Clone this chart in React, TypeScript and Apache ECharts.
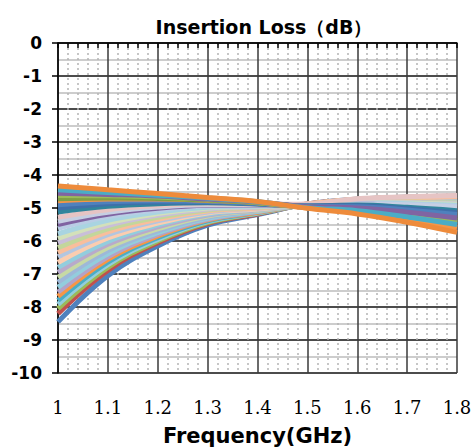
import React, { useEffect, useRef } from "react";
import * as echarts from "echarts";

const freqs = [1.0, 1.1, 1.2, 1.3, 1.4, 1.5, 1.6, 1.7, 1.8];

const s00 = [-4.33, -4.45, -4.56, -4.68, -4.80, -5.01, -5.18, -5.43, -5.74];
const s01 = [-4.45, -4.53, -4.61, -4.70, -4.81, -4.99, -5.08, -5.27, -5.50];
const s02 = [-4.55, -4.59, -4.64, -4.73, -4.82, -4.96, -5.00, -5.13, -5.30];
const s03 = [-4.62, -4.63, -4.67, -4.74, -4.83, -4.98, -5.06, -5.23, -5.44];
const s04 = [-4.72, -4.70, -4.71, -4.76, -4.84, -4.97, -5.03, -5.18, -5.38];
const s05 = [-4.78, -4.73, -4.73, -4.77, -4.84, -5.00, -5.12, -5.34, -5.60];
const s06 = [-4.90, -4.81, -4.78, -4.80, -4.86, -4.95, -4.96, -5.06, -5.20];
const s07 = [-5.00, -4.87, -4.82, -4.82, -4.87, -4.94, -4.93, -5.02, -5.14];
const s08 = [-5.12, -4.95, -4.87, -4.84, -4.88, -4.94, -4.91, -4.98, -5.08];
const s09 = [-5.28, -5.05, -4.93, -4.87, -4.89, -4.88, -4.72, -4.66, -4.62];
const s10 = [-5.40, -5.13, -4.97, -4.90, -4.90, -4.92, -4.87, -4.91, -4.98];
const s11 = [-5.50, -5.19, -5.01, -4.92, -4.91, -4.93, -4.88, -4.94, -5.02];
const s12 = [-5.62, -5.26, -5.06, -4.94, -4.93, -4.92, -4.86, -4.89, -4.95];
const s13 = [-5.78, -5.37, -5.12, -4.98, -4.94, -4.92, -4.84, -4.87, -4.92];
const s14 = [-5.92, -5.45, -5.17, -5.00, -4.95, -4.91, -4.83, -4.85, -4.89];
const s15 = [-6.05, -5.53, -5.22, -5.03, -4.97, -4.91, -4.82, -4.83, -4.87];
const s16 = [-6.20, -5.63, -5.28, -5.06, -4.98, -4.91, -4.81, -4.82, -4.85];
const s17 = [-6.35, -5.72, -5.34, -5.09, -5.00, -4.88, -4.74, -4.69, -4.66];
const s18 = [-6.48, -5.81, -5.39, -5.12, -5.01, -4.91, -4.81, -4.80, -4.83];
const s19 = [-6.65, -5.91, -5.46, -5.15, -5.03, -4.88, -4.73, -4.67, -4.64];
const s20 = [-6.80, -6.01, -5.51, -5.18, -5.04, -4.90, -4.80, -4.79, -4.81];
const s21 = [-6.95, -6.10, -5.57, -5.21, -5.05, -4.90, -4.79, -4.78, -4.79];
const s22 = [-7.10, -6.20, -5.63, -5.24, -5.07, -4.90, -4.78, -4.76, -4.77];
const s23 = [-7.25, -6.29, -5.69, -5.28, -5.08, -4.90, -4.77, -4.75, -4.75];
const s24 = [-7.40, -6.39, -5.75, -5.31, -5.10, -4.89, -4.77, -4.74, -4.74];
const s25 = [-7.55, -6.48, -5.80, -5.34, -5.11, -4.89, -4.76, -4.73, -4.72];
const s26 = [-7.68, -6.56, -5.85, -5.36, -5.13, -4.89, -4.76, -4.72, -4.71];
const s27 = [-7.80, -6.64, -5.90, -5.39, -5.14, -4.89, -4.75, -4.72, -4.70];
const s28 = [-7.92, -6.72, -5.95, -5.41, -5.15, -4.89, -4.74, -4.70, -4.68];
const s29 = [-8.05, -6.80, -6.00, -5.44, -5.16, -4.89, -4.74, -4.69, -4.67];
const s30 = [-8.20, -6.89, -6.05, -5.47, -5.18, -4.88, -4.74, -4.69, -4.66];
const s31 = [-8.45, -7.05, -6.15, -5.52, -5.20, -4.88, -4.73, -4.67, -4.64];

const seriesValues = [
  s00, s01, s02, s03, s04, s05, s06, s07, s08, s09, s10, s11, s12, s13, s14, s15,
  s16, s17, s18, s19, s20, s21, s22, s23, s24, s25, s26, s27, s28, s29, s30, s31,
];

const seriesColors = [
  "#EE8B3B", "#4BACC6", "#8064A2", "#9BBB59", "#7F9F45", "#F79646", "#4F81BD", "#3F6FAA",
  "#31859C", "#E6C4C4", "#C6CFE3", "#8064A2", "#B9CDE5", "#A9D4E1", "#D3E1BA", "#C9BFD8",
  "#C3D69B", "#F9BE9C", "#B3C6E0", "#FBCDB0", "#93CDDD", "#B8AACB", "#C7D9A5", "#9EB8D8",
  "#93CDDD", "#B3A2C7", "#F79646", "#4BACC6", "#93CDDD", "#9BBB59", "#C0504D", "#4F81BD",
];

const yTicks = { min: -10, max: 0, step: 1 };
const xTicks = { min: 1, max: 1.8, step: 0.1 };

export default function App() {
  const ref = useRef<HTMLDivElement>(null);
  useEffect(() => {
    if (!ref.current) return;
    const chart = echarts.init(ref.current, null, { renderer: "svg" });
    const series = seriesValues
      .map((vals, i) => ({
        type: "line",
        name: "S" + (i + 1),
        showSymbol: false,
        smooth: 0.4,
        lineStyle: { width: 5, color: seriesColors[i] },
        itemStyle: { color: seriesColors[i] },
        data: freqs.map((f, j) => [f, vals[j]]),
      }))
      .reverse();
    chart.setOption({
      animation: false,
      backgroundColor: "#fff",
      title: {
        text: "Insertion Loss（dB）",
        left: 259,
        textAlign: "center",
        top: 12,
        textStyle: { fontFamily: "DejaVu Sans", fontWeight: "bold", fontSize: 19, color: "#000" },
      },
      grid: { left: 58, right: 18, top: 43, bottom: 75, outerBoundsMode: "none", containLabel: false },
      xAxis: {
        type: "value",
        min: xTicks.min,
        max: xTicks.max,
        interval: xTicks.step,
        name: "Frequency(GHz)",
        nameLocation: "middle",
        nameGap: 52,
        nameTextStyle: { fontFamily: "DejaVu Sans", fontWeight: "bold", fontSize: 21, color: "#000" },
        axisLine: { show: true, lineStyle: { color: "#000", width: 1.5 } },
        axisTick: { show: true, length: 5, lineStyle: { color: "#000", width: 1.5 } },
        minorTick: { show: true, splitNumber: 5, length: 5, lineStyle: { color: "#000", width: 1.5 } },
        splitLine: { show: true, lineStyle: { color: "#3a3a3a", width: 1.5 } },
        minorSplitLine: { show: true, lineStyle: { color: "#b4b4b4", width: 1.5, type: [2, 3] } },
        axisLabel: { fontFamily: "DejaVu Serif", fontSize: 18, color: "#000", margin: 25 },
      },
      yAxis: {
        type: "value",
        min: yTicks.min,
        max: yTicks.max,
        interval: yTicks.step,
        axisLine: { show: true, lineStyle: { color: "#000", width: 1.5 } },
        axisTick: { show: true, length: 6, lineStyle: { color: "#000", width: 1.5 } },
        minorTick: { show: false, splitNumber: 2 },
        splitLine: { show: true, lineStyle: { color: "#111", width: 1.5 } },
        minorSplitLine: { show: true, lineStyle: { color: "#cdcdcd", width: 2 } },
        axisLabel: { fontFamily: "DejaVu Sans", fontWeight: "bold", fontSize: 17, color: "#000", margin: 16 },
      },
      series,
    });
    return () => chart.dispose();
  }, []);
  return <div ref={ref} style={{ width: 475, height: 448, position: "absolute", left: 0, top: 0 }} />;
}
